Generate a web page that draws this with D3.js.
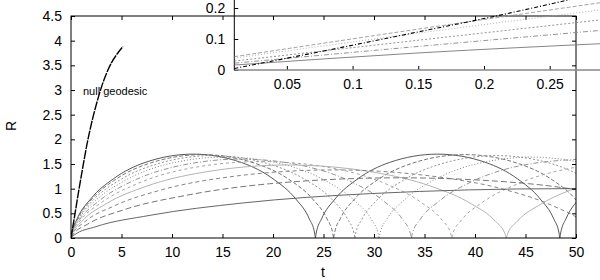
<!DOCTYPE html>
<html>
<head>
<meta charset="utf-8">
<script src="https://cdn.jsdelivr.net/npm/d3@7"></script>
<style>
  body { margin: 0; background: #fff; }
  svg { display: block; font-family: "Liberation Sans", Arial, sans-serif; }
  .tick line { stroke: #000; }
  .tick text { fill: #000; font-size: 14px; }
</style>
</head>
<body>
<div id="chart"></div>
<script>
// tick values
const tTicks = [0, 5, 10, 15, 20, 25, 30, 35, 40, 45, 50];
const rTicks = [0, 0.5, 1, 1.5, 2, 2.5, 3, 3.5, 4, 4.5];
const insetTTicks = [0.05, 0.1, 0.15, 0.2, 0.25];
const insetRTicks = [0, 0.1, 0.2];

// null geodesic, [t, R]
const nullGeodesic = [[0,0],[0.4,0.5],[0.8,1.0],[1.2,1.47],[1.6,1.92],[2.0,2.3],[2.5,2.7],[3.0,3.05],[3.5,3.33],[4.0,3.55],[4.6,3.74],[5.15,3.88]];

// timelike geodesics, [t, R]; R = 0 marks a bounce
const geoA = [[0,0],[0.08,0.1],[0.61,0.39],[1.94,0.79],[4.2,1.2],[7.32,1.53],[12.1,1.7],[16.88,1.53],[20.0,1.2],[22.26,0.79],[23.59,0.39],[24.12,0.1],[24.2,0],
  [24.28,0.1],[24.81,0.39],[26.14,0.79],[28.4,1.2],[31.52,1.53],[36.3,1.7],[41.08,1.53],[44.2,1.2],[46.46,0.79],[47.79,0.39],[48.32,0.1],[48.4,0],
  [48.48,0.1],[49.01,0.39],[50.34,0.79]];
const geoB = [[0,0],[0.09,0.1],[0.66,0.39],[2.08,0.79],[4.51,1.2],[7.87,1.52],[13,1.69],[18.13,1.52],[21.49,1.2],[23.92,0.79],[25.34,0.39],[25.91,0.1],[26,0],
  [26.09,0.1],[26.66,0.39],[28.08,0.79],[30.51,1.2],[33.87,1.52],[39,1.69],[44.13,1.52],[47.49,1.2],[49.92,0.79],[51.34,0.39]];
const geoC = [[0,0],[0.09,0.1],[0.71,0.38],[2.25,0.78],[4.88,1.18],[8.5,1.5],[14.05,1.67],[19.6,1.5],[23.22,1.18],[25.85,0.78],[27.39,0.38],[28.01,0.1],[28.1,0],
  [28.19,0.1],[28.81,0.38],[30.35,0.78],[32.98,1.18],[36.6,1.5],[42.15,1.67],[47.7,1.5],[51.32,1.18]];
const geoD = [[0,0],[0.1,0.1],[0.77,0.38],[2.44,0.76],[5.3,1.16],[9.23,1.48],[15.25,1.64],[21.27,1.48],[25.21,1.16],[28.06,0.76],[29.73,0.38],[30.4,0.1],[30.5,0],
  [30.6,0.1],[31.27,0.38],[32.94,0.76],[35.8,1.16],[39.73,1.48],[45.75,1.64],[51.77,1.48]];
const geoE = [[0,0],[0.11,0.1],[0.85,0.37],[2.7,0.74],[5.85,1.13],[10.2,1.44],[16.85,1.6],[23.5,1.44],[27.85,1.13],[31,0.74],[32.85,0.37],[33.59,0.1],[33.7,0],
  [33.81,0.1],[34.55,0.37],[36.4,0.74],[39.55,1.13],[43.9,1.44],[50.55,1.6]];
const geoF = [[0,0],[0.12,0.1],[0.95,0.36],[3.02,0.72],[6.55,1.1],[11.41,1.4],[18.85,1.55],[26.29,1.4],[31.15,1.1],[34.68,0.72],[36.75,0.36],[37.58,0.1],[37.7,0],
  [37.82,0.1],[38.65,0.36],[40.72,0.72],[44.25,1.1],[49.11,1.4],[56.55,1.55]];
const geoG = [[0,0],[0.14,0.09],[1.09,0.34],[3.45,0.69],[7.48,1.05],[13.04,1.33],[21.55,1.48],[30.06,1.33],[35.62,1.05],[39.65,0.69],[42.01,0.34],[42.96,0.09],[43.1,0],
  [43.24,0.09],[44.19,0.34],[46.55,0.69],[50.58,1.05]];
const geoH = [[0,0],[0.17,0.08],[1.31,0.32],[4.16,0.64],[9.03,0.98],[15.74,1.24],[26,1.38],[36.26,1.24],[42.97,0.98],[47.84,0.64],[50.69,0.32],[51.83,0.08],[52,0]];
const geoI = [[0,0],[0.21,0.07],[1.64,0.28],[5.2,0.57],[11.28,0.86],[19.67,1.1],[32.5,1.22],[45.33,1.1],[53.72,0.86]];
const geoJ = [[0,0],[0.32,0.06],[2.47,0.23],[7.84,0.46],[17.01,0.71],[29.65,0.9],[49,1],[68.35,0.9]];

// inset: close-up near the origin
const insetNull = [[0.01,0.005],[0.05,0.038],[0.1,0.08],[0.15,0.123],[0.2,0.166],[0.26,0.222],[0.3,0.262]];
const inset1 = [[0.01,0.043],[0.15,0.132],[0.3,0.224]];
const inset2 = [[0.01,0.038],[0.15,0.119],[0.3,0.2]];
const inset3 = [[0.01,0.029],[0.15,0.096],[0.3,0.167]];
const inset4 = [[0.01,0.022],[0.15,0.076],[0.3,0.132]];
const inset5 = [[0.01,0.016],[0.15,0.055],[0.3,0.087]];

const width = 600, height = 280;
const svg = d3.select("#chart").append("svg")
  .attr("width", width).attr("height", height);
svg.append("rect").attr("width", width).attr("height", height).attr("fill", "#fff");

const x = d3.scaleLinear().domain([0, 50]).range([71, 576]);
const y = d3.scaleLinear().domain([0, 4.5]).range([238, 16]);
const fmt = d3.format("~g");

svg.append("clipPath").attr("id", "clipMain")
  .append("rect").attr("x", 71).attr("y", 16).attr("width", 505).attr("height", 222);

// split a geodesic at its bounces so each arch gets a sharp cusp
let arches = (pts) => {
  let out = [[pts[0]]];
  for (let i = 1; i < pts.length; i++) {
    out[out.length - 1].push(pts[i]);
    if (pts[i][1] === 0 && i < pts.length - 1) out.push([pts[i]]);
  }
  return out;
};

let line = d3.line()
  .x(d => x(d[0]))
  .y(d => y(d[1]))
  .curve(d3.curveMonotoneX);

const geoStyles = [
  { data: geoA, color: "#444", dash: null },
  { data: geoB, color: "#666", dash: "4,2" },
  { data: geoC, color: "#888", dash: "2,2" },
  { data: geoD, color: "#777", dash: "1,2" },
  { data: geoE, color: "#888", dash: "5,2,1,2" },
  { data: geoF, color: "#999", dash: "3,3" },
  { data: geoG, color: "#aaa", dash: null },
  { data: geoH, color: "#777", dash: "4,3" },
  { data: geoI, color: "#666", dash: "6,3" },
  { data: geoJ, color: "#555", dash: null }
];

let plot = svg.append("g").attr("clip-path", "url(#clipMain)");
geoStyles.forEach(s => {
  plot.selectAll(null)
    .data(arches(s.data))
    .enter().append("path")
    .attr("d", line)
    .attr("fill", "none")
    .attr("stroke", s.color)
    .attr("stroke-width", 0.9)
    .attr("stroke-dasharray", s.dash);
});

plot.append("path")
  .attr("d", line(nullGeodesic))
  .attr("fill", "none")
  .attr("stroke", "#000")
  .attr("stroke-width", 1.4)
  .attr("stroke-dasharray", "9,1");

svg.append("text")
  .attr("x", 83).attr("y", 95)
  .attr("font-size", 11)
  .text("null geodesic");

// main axes, ticks pointing inwards on all four sides
svg.append("g").attr("transform", "translate(0,238)")
  .call(d3.axisBottom(x).tickValues(tTicks).tickFormat(fmt).tickSizeInner(-4).tickSizeOuter(0).tickPadding(9))
  .call(g => g.select(".domain").remove());
svg.append("g").attr("transform", "translate(0,16)")
  .call(d3.axisTop(x).tickValues(tTicks).tickSizeInner(-4).tickSizeOuter(0).tickFormat(""))
  .call(g => g.select(".domain").remove());
svg.append("g").attr("transform", "translate(71,0)")
  .call(d3.axisLeft(y).tickValues(rTicks).tickFormat(fmt).tickSizeInner(-4).tickSizeOuter(0).tickPadding(9))
  .call(g => g.select(".domain").remove());
svg.append("g").attr("transform", "translate(576,0)")
  .call(d3.axisRight(y).tickValues(rTicks).tickSizeInner(-4).tickSizeOuter(0).tickFormat(""))
  .call(g => g.select(".domain").remove());

svg.append("rect")
  .attr("x", 71).attr("y", 16).attr("width", 505).attr("height", 222)
  .attr("fill", "none").attr("stroke", "#000").attr("stroke-width", 1);

svg.append("text")
  .attr("x", 323).attr("y", 277)
  .attr("text-anchor", "middle").attr("font-size", 14)
  .text("t");
svg.append("text")
  .attr("transform", "translate(16,126) rotate(-90)")
  .attr("text-anchor", "middle").attr("font-size", 14)
  .text("R");

// inset
const ix = d3.scaleLinear().domain([0.01, 0.3]).range([234.3, 615.4]);
const iy = d3.scaleLinear().domain([0, 0.25]).range([70, -7.5]);

svg.append("clipPath").attr("id", "clipInset")
  .append("rect").attr("x", 234.3).attr("y", -7.5).attr("width", 381).attr("height", 77.5);

svg.append("g").attr("transform", "translate(0,70)")
  .call(d3.axisBottom(ix).tickValues(insetTTicks).tickFormat(fmt).tickSizeInner(-4).tickSizeOuter(0).tickPadding(9))
  .call(g => g.select(".domain").remove());
svg.append("g").attr("transform", "translate(234.3,0)")
  .call(d3.axisLeft(iy).tickValues(insetRTicks).tickFormat(fmt).tickSizeInner(-4).tickSizeOuter(0).tickPadding(9))
  .call(g => g.select(".domain").remove());

svg.append("line")
  .attr("x1", 234.3).attr("x2", 615).attr("y1", 70).attr("y2", 70)
  .attr("stroke", "#888").attr("stroke-width", 1.5);
svg.append("line")
  .attr("x1", 234.3).attr("x2", 234.3).attr("y1", 70).attr("y2", -8)
  .attr("stroke", "#000").attr("stroke-width", 1);

let iline = d3.line()
  .x(d => ix(d[0]))
  .y(d => iy(d[1]))
  .curve(d3.curveMonotoneX);

const insetStyles = [
  { data: inset1, color: "#999", dash: "4,2", w: 0.9 },
  { data: inset2, color: "#aaa", dash: "1,2", w: 0.9 },
  { data: inset3, color: "#888", dash: "2,2", w: 0.9 },
  { data: inset4, color: "#888", dash: "5,2,1,2", w: 0.9 },
  { data: inset5, color: "#777", dash: null, w: 0.9 },
  { data: insetNull, color: "#000", dash: "4,2,1,2", w: 1.1 }
];

let inset = svg.append("g").attr("clip-path", "url(#clipInset)");
inset.selectAll("path")
  .data(insetStyles)
  .enter().append("path")
  .attr("d", s => iline(s.data))
  .attr("fill", "none")
  .attr("stroke", s => s.color)
  .attr("stroke-width", s => s.w)
  .attr("stroke-dasharray", s => s.dash);
</script>
</body>
</html>
